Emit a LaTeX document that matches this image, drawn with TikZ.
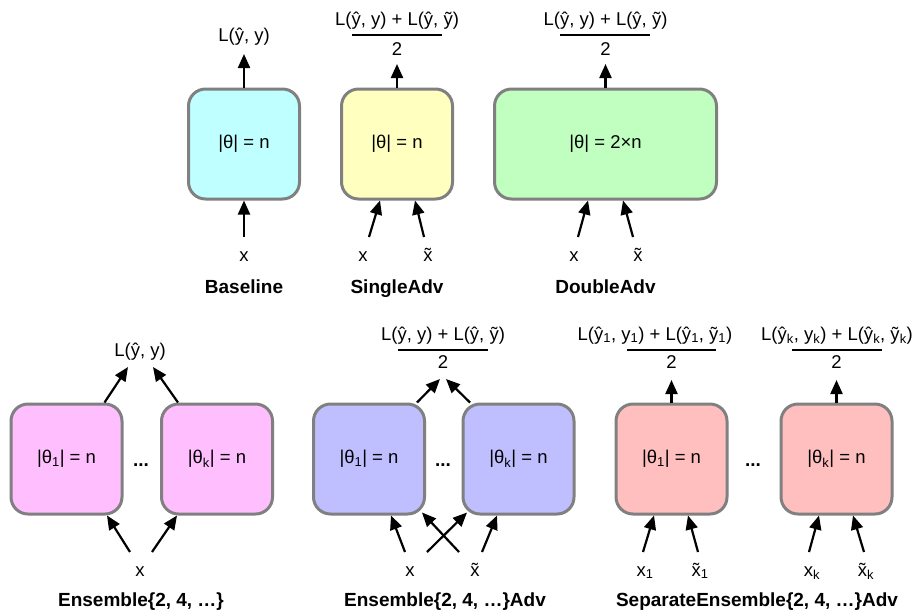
\documentclass[tikz,border=0pt]{standalone}
\usepackage{fontspec}
\setmainfont{Liberation Sans}
\usetikzlibrary{arrows.meta}
\definecolor{bord}{HTML}{808080}
\definecolor{cyanbox}{HTML}{BFFFFF}
\definecolor{yelbox}{HTML}{FFFFC0}
\definecolor{grnbox}{HTML}{C0FFC0}
\definecolor{pinkbox}{HTML}{FFBFFF}
\definecolor{lavbox}{HTML}{BFBFFF}
\definecolor{salbox}{HTML}{FFBFBF}
\newcommand\xtil{\leavevmode\ooalign{x\cr\hidewidth\char"02DC\hidewidth\cr}}
\begin{document}
\begin{tikzpicture}[x=1pt,y=-1pt,
  netbox/.style={draw=bord,line width=3pt,rounded corners=17pt,minimum width=111pt,minimum height=110pt,inner sep=0pt,font=\fontsize{18.5}{22}\selectfont},
  txt/.style={inner sep=0pt,anchor=base,font=\fontsize{18.5}{22}\selectfont},
  captxt/.style={inner sep=0pt,anchor=base,font=\bfseries\fontsize{19}{22}\selectfont},
  dotstxt/.style={inner sep=0pt,anchor=base,font=\bfseries\fontsize{19}{22}\selectfont},
  arr/.style={line width=2.2pt,-{Triangle[length=14pt,width=12pt]}},
  fracline/.style={line width=1.6pt}]
\useasboundingbox (0,0) rectangle (917,611);

% ---------- top row ----------
\node[netbox,fill=cyanbox] (b1) at (244,144) {|θ| = n};
\node[netbox,fill=yelbox] (b2) at (397,144) {|θ| = n};
\node[netbox,fill=grnbox,minimum width=222pt] (b3) at (605.5,144) {|θ| = 2×n};

\node[txt] (o1) at (244,41) {L(ŷ, y)};
\node[txt] (n2) at (397,25) {L(ŷ, y) + L(ŷ, ỹ)};
\node[txt] (d2) at (397,55) {2};
\node[txt] (n3) at (605.5,25) {L(ŷ, y) + L(ŷ, ỹ)};
\node[txt] (d3) at (605.5,55) {2};
\draw[fracline] (352,35) -- (442,35);
\draw[fracline] (560,35) -- (650,35);

\draw[arr] (b1.north) -- ([yshift=-13pt]o1.base);
\draw[arr] (b2.north) -- ([yshift=-9pt]d2.base);
\draw[arr] (b3.north) -- ([yshift=-9pt]d3.base);

\node[txt] (x1) at (244,261) {x};
\node[txt] (x2) at (363,261) {x};
\node[txt] (xt2) at (428,261) {\xtil};
\node[txt] (x3) at (574,261) {x};
\node[txt] (xt3) at (638,261) {\xtil};

\draw[arr] ([yshift=24pt]x1.base) -- (b1.south);
\draw[arr] ([xshift=6pt,yshift=24pt]x2.base) -- ([xshift=-17pt]b2.south);
\draw[arr] ([xshift=-4pt,yshift=24pt]xt2.base) -- ([xshift=18pt]b2.south);
\draw[arr] ([xshift=4pt,yshift=24pt]x3.base) -- ([xshift=-17.5pt]b3.south);
\draw[arr] ([xshift=-5pt,yshift=24pt]xt3.base) -- ([xshift=17.5pt]b3.south);

\node[captxt] (l1) at (244,293) {Baseline};
\node[captxt] (l2) at (397,293) {SingleAdv};
\node[captxt] (l3) at (605.5,293) {DoubleAdv};

% ---------- bottom row: Ensemble ----------
\node[netbox,fill=pinkbox] (e1) at (66.5,459) {|θ\textsubscript{1}| = n};
\node[netbox,fill=pinkbox] (e2) at (217,459) {|θ\textsubscript{k}| = n};
\node[dotstxt] (dotE) at (141,466) {...};
\node[txt] (oE) at (140,356) {L(ŷ, y)};
\draw[arr] ([xshift=38pt]e1.north) -- ([xshift=-12pt,yshift=-11pt]oE.base);
\draw[arr] ([xshift=-39pt]e2.north) -- ([xshift=13pt,yshift=-11pt]oE.base);
\node[txt] (xE) at (140,576) {x};
\draw[arr] ([xshift=-10pt,yshift=24pt]xE.base) -- ([xshift=40.5pt]e1.south);
\draw[arr] ([xshift=12pt,yshift=24pt]xE.base) -- ([xshift=-40pt]e2.south);
\node[captxt] (l4) at (141,606) {Ensemble\{2, 4, …\}};

% ---------- bottom row: Ensemble Adv ----------
\node[netbox,fill=lavbox] (a1) at (369,459) {|θ\textsubscript{1}| = n};
\node[netbox,fill=lavbox] (a2) at (518.5,459) {|θ\textsubscript{k}| = n};
\node[dotstxt] (dotA) at (443,466) {...};
\node[txt] (nA) at (443,340) {L(ŷ, y) + L(ŷ, ỹ)};
\node[txt] (dA) at (443,368) {2};
\draw[fracline] (398,350) -- (488,350);
\draw[arr] ([xshift=48pt]a1.north) -- ([xshift=-3pt,yshift=-11pt]dA.base);
\draw[arr] ([xshift=-48.5pt]a2.north) -- ([xshift=3pt,yshift=-11pt]dA.base);
\node[txt] (xA) at (410,576) {x};
\node[txt] (xtA) at (475,576) {\xtil};
\draw[arr] ([xshift=-5pt,yshift=24pt]xA.base) -- ([xshift=22pt]a1.south);
\draw[arr] ([xshift=17pt,yshift=24pt]xA.base) -- ([xshift=-51.5pt,yshift=3pt]a2.south);
\draw[arr] ([xshift=-16pt,yshift=24pt]xtA.base) -- ([xshift=53pt,yshift=3pt]a1.south);
\draw[arr] ([xshift=7pt,yshift=24pt]xtA.base) -- ([xshift=-21.5pt]a2.south);
\node[captxt] (l5) at (445,606) {Ensemble\{2, 4, …\}Adv};

% ---------- bottom row: SeparateEnsemble Adv ----------
\node[netbox,fill=salbox] (s1) at (671.5,459) {|θ\textsubscript{1}| = n};
\node[netbox,fill=salbox] (s2) at (836.5,459) {|θ\textsubscript{k}| = n};
\node[dotstxt] (dotS) at (753,466) {...};
\node[txt] (nS1) at (655,340) {L(ŷ\textsubscript{1}, y\textsubscript{1}) + L(ŷ\textsubscript{1}, ỹ\textsubscript{1})};
\node[txt] (nS2) at (837,340) {L(ŷ\textsubscript{k}, y\textsubscript{k}) + L(ŷ\textsubscript{k}, ỹ\textsubscript{k})};
\node[txt] (dS1) at (671.5,368) {2};
\node[txt] (dS2) at (836.5,368) {2};
\draw[fracline] (627,350) -- (716,350);
\draw[fracline] (792,350) -- (882,350);
\draw[arr] (s1.north) -- ([yshift=-12pt]dS1.base);
\draw[arr] (s2.north) -- ([yshift=-12pt]dS2.base);
\node[txt] (xS1) at (645,576) {x\textsubscript{1}};
\node[txt] (xtS1) at (700,576) {\xtil\textsubscript{1}};
\node[txt] (xS2) at (812,576) {x\textsubscript{k}};
\node[txt] (xtS2) at (866,576) {\xtil\textsubscript{k}};
\draw[arr] ([xshift=-2pt,yshift=24pt]xS1.base) -- ([xshift=-17.5pt]s1.south);
\draw[arr] ([xshift=-2pt,yshift=24pt]xtS1.base) -- ([xshift=16.5pt]s1.south);
\draw[arr] ([xshift=-3pt,yshift=24pt]xS2.base) -- ([xshift=-17.5pt]s2.south);
\draw[arr] ([xshift=-2pt,yshift=24pt]xtS2.base) -- ([xshift=16.5pt]s2.south);
\node[captxt] (l6) at (757,606) {SeparateEnsemble\{2, 4, …\}Adv};
\end{tikzpicture}
\end{document}
